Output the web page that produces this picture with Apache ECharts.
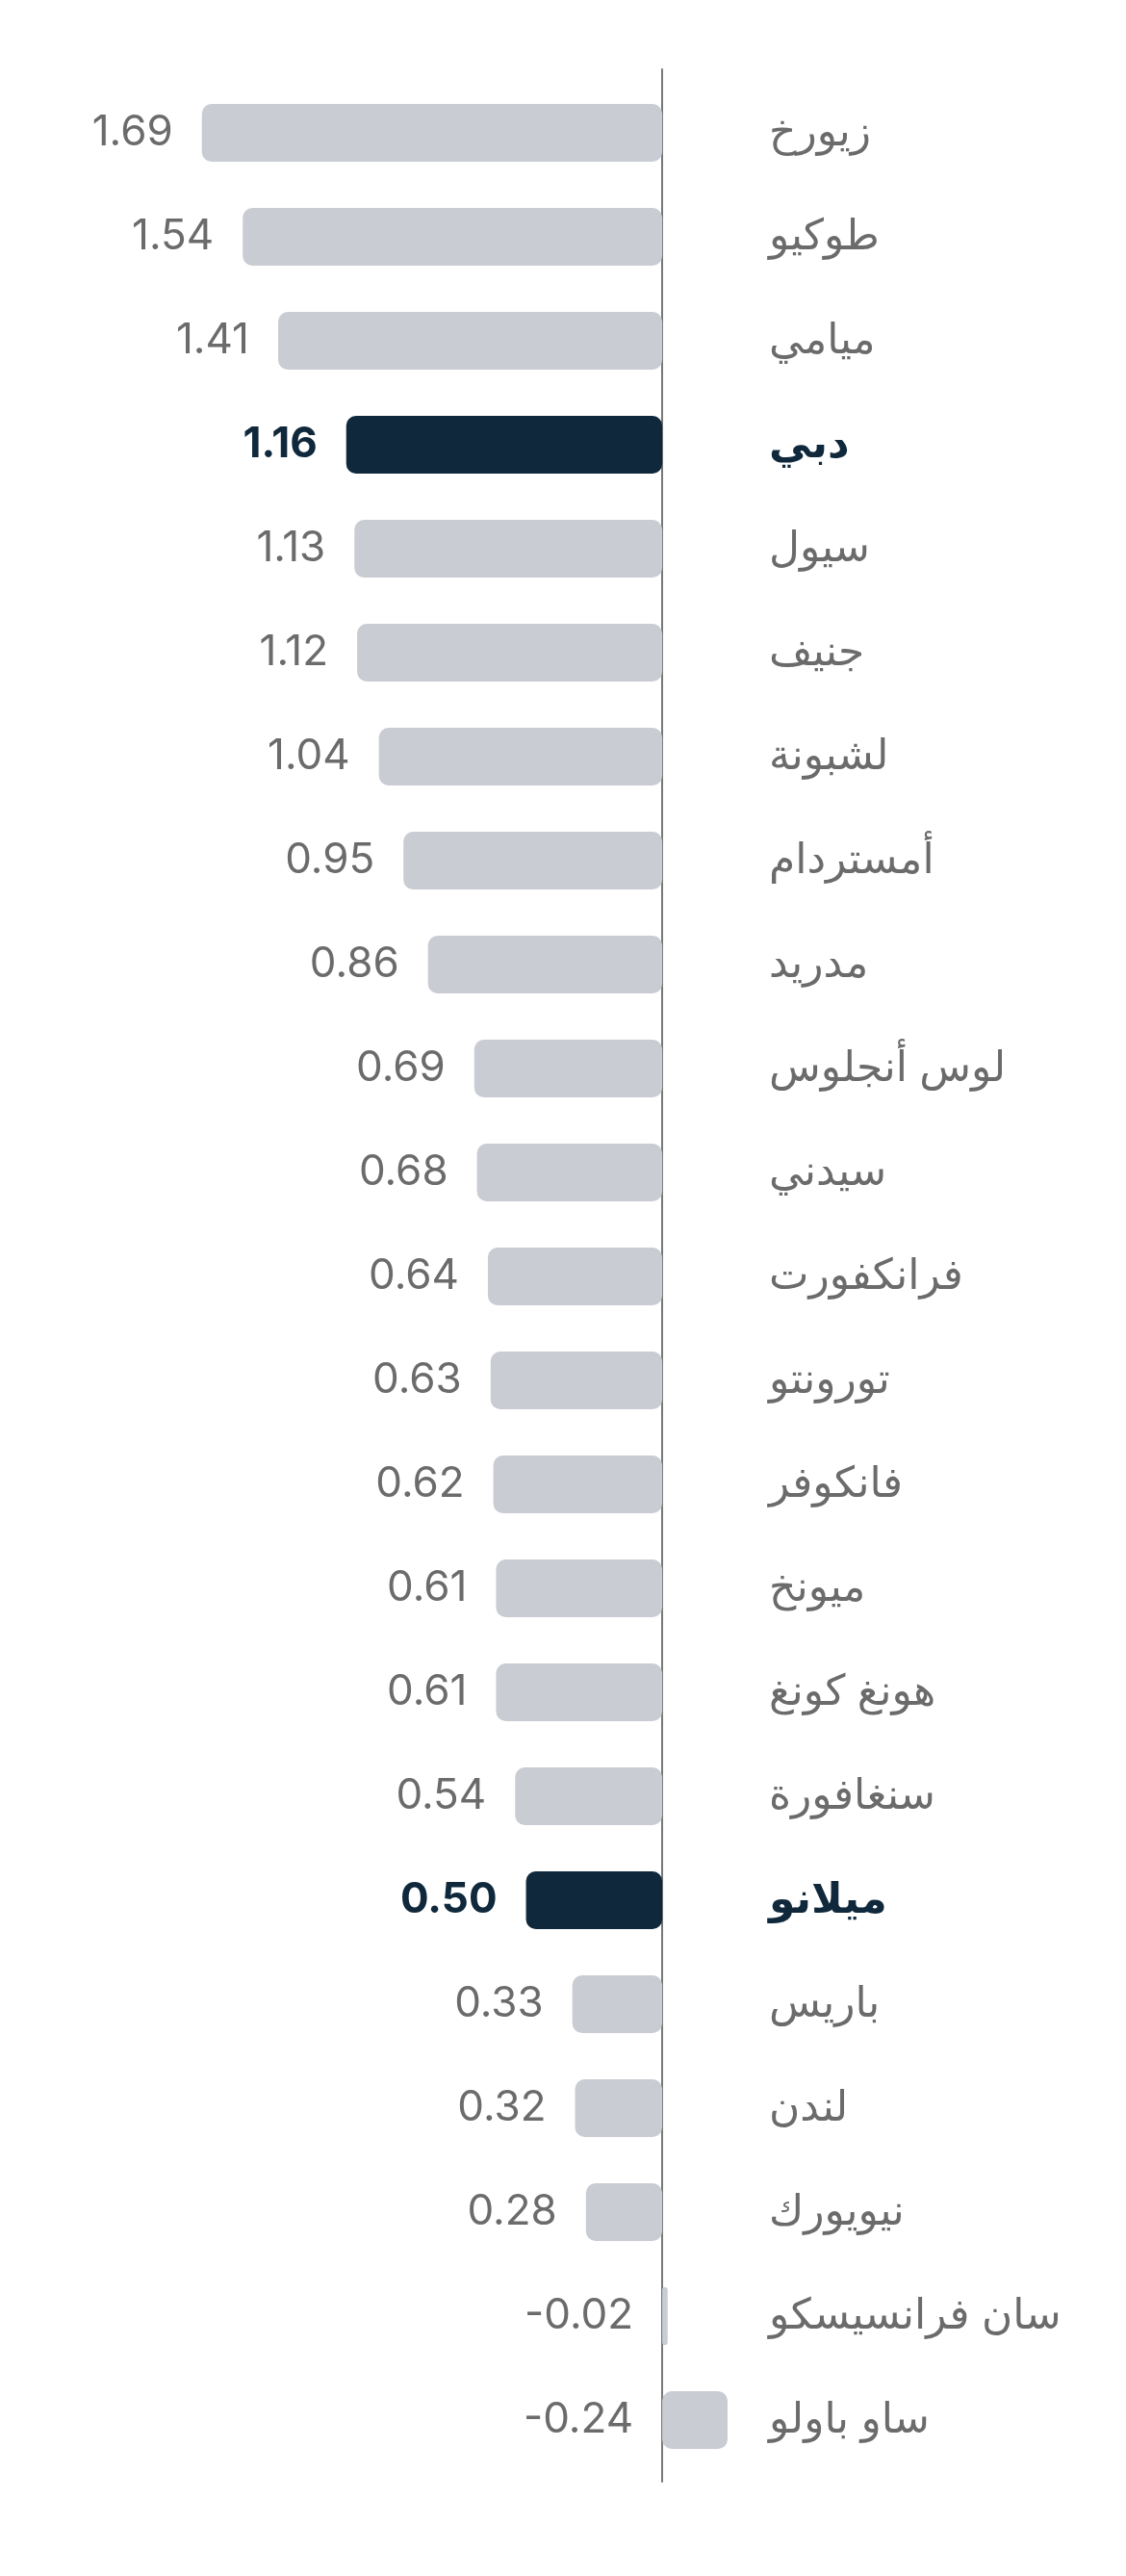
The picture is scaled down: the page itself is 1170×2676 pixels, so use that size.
<!DOCTYPE html>
<html>
<head>
<meta charset="utf-8">
<script src="https://cdn.jsdelivr.net/npm/echarts@6/dist/echarts.min.js"></script>
<style>
  html, body { margin: 0; padding: 0; background: #fff; }
  #main { width: 1170px; height: 2676px; }
</style>
</head>
<body>
<div id="main"></div>
<script>
const cities = ['زيورخ', 'طوكيو', 'ميامي', 'دبي', 'سيول', 'جنيف', 'لشبونة', 'أمستردام', 'مدريد',
  'لوس أنجلوس', 'سيدني', 'فرانكفورت', 'تورونتو', 'فانكوفر', 'ميونخ', 'هونغ كونغ', 'سنغافورة',
  'ميلانو', 'باريس', 'لندن', 'نيويورك', 'سان فرانسيسكو', 'ساو باولو']
const values = [1.69, 1.54, 1.41, 1.16, 1.13, 1.12, 1.04, 0.95, 0.86, 0.69, 0.68, 0.64, 0.63,
  0.62, 0.61, 0.61, 0.54, 0.50, 0.33, 0.32, 0.28, -0.02, -0.24]
const highlighted = ['دبي', 'ميلانو']

const GREY = '#c9ccd3'
const DARK = '#0f283b'
const TEXT = '#6b6b6b'
const FONT = "Inter, 'DejaVu Sans', sans-serif"

function main() {
  const chart = echarts.init(document.getElementById('main'))

  const barData = values.map((v, i) => {
    const hi = highlighted.includes(cities[i])
    return {
      value: v,
      itemStyle: { color: hi ? DARK : GREY },
      label: hi ? { color: DARK, fontWeight: 'bold' } : {}
    }
  })

  const catData = cities.map(c => {
    const hi = highlighted.includes(c)
    return hi ? { value: c, textStyle: { color: DARK, fontWeight: 'bold' } } : c
  })

  // same value range on both grids so the zero line sits under the bars' base
  const xRange = { min: -0.3, max: 2.0 }

  const option = {
    animation: false,
    grid: [
      { left: 122, right: 397, top: 84, height: 2484 },
      { left: 122, right: 397, top: 72, height: 2506 }
    ],
    xAxis: [
      { type: 'value', gridIndex: 0, inverse: true, ...xRange, show: false },
      { type: 'value', gridIndex: 1, inverse: true, ...xRange, show: false }
    ],
    yAxis: [
      {
        type: 'category',
        gridIndex: 0,
        inverse: true,
        position: 'right',
        data: catData,
        axisLine: { show: false, onZero: false },
        axisTick: { show: false },
        axisLabel: {
          align: 'left',
          margin: 26,
          fontSize: 44,
          color: TEXT,
          fontFamily: FONT
        }
      },
      {
        type: 'category',
        gridIndex: 1,
        data: cities,
        axisLine: { show: true, onZero: true, lineStyle: { color: '#777', width: 2 } },
        axisTick: { show: false },
        axisLabel: { show: false }
      }
    ],
    series: [{
      type: 'bar',
      xAxisIndex: 0,
      yAxisIndex: 0,
      data: barData,
      barWidth: 60,
      itemStyle: { borderRadius: 10 },
      label: {
        show: true,
        position: 'left',
        distance: 30,
        fontSize: 44,
        color: TEXT,
        fontFamily: FONT,
        formatter: p => p.value.toFixed(2)
      }
    }]
  }
  chart.setOption(option)
}

window.onload = main
</script>
</body>
</html>
